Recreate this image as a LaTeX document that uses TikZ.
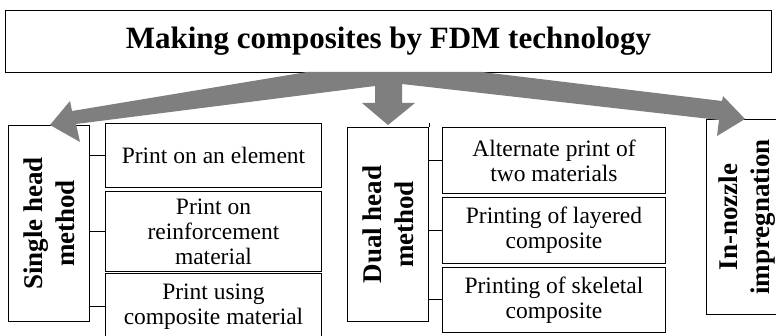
\documentclass[tikz,border=0pt]{standalone}
\usepackage{fontspec}
\setmainfont{Liberation Serif}
\definecolor{arrowgray}{HTML}{7F7F7F}
\begin{document}
\begin{tikzpicture}[x=1pt,y=-1pt,
  box/.style={draw, line width=1pt, inner sep=0pt, anchor=north west},
  sub/.style={box, align=center, font=\fontsize{23.5}{25}\selectfont},
  vbox/.style={box, minimum width=81pt},
  vlabel/.style={rotate=90, align=center, inner sep=0pt, font=\bfseries\fontsize{27}{32}\selectfont},
  tick/.style={line width=1pt}]
\path[use as bounding box, clip] (0,0) rectangle (776,336);

% title
\node[box, minimum width=766pt, minimum height=62pt,
      font=\bfseries\fontsize{31}{34}\selectfont] (title) at (5,10)
      {Making composites by FDM technology};

% single head branch
\node[vbox, minimum height=196pt] (single) at (8,125) {};
\node[vlabel] (singlet) at (single.center) {Single head\\method};
\node[sub, minimum width=216pt, minimum height=64pt] (sa) at (105,123) {Print on an element};
\node[sub, minimum width=216pt, minimum height=80pt] (sb) at (105,191) {Print on\\reinforcement\\material};
\node[sub, minimum width=216pt, minimum height=66pt] (sc) at (105,273) {Print using\\composite material};
\foreach \s in {sa,sb,sc}
  \draw[tick] (single.east |- \s.west) -- (\s.west);

% dual head branch
\node[vbox, minimum height=194pt] (dual) at (347,127) {};
\node[vlabel] (dualt) at (dual.center) {Dual head\\method};
\node[sub, minimum width=223pt, minimum height=66pt] (da) at (442,127) {Alternate print of\\two materials};
\node[sub, minimum width=223pt, minimum height=66pt] (db) at (442,197) {Printing of layered\\composite};
\node[sub, minimum width=223pt, minimum height=65pt] (dc) at (442,267) {Printing of skeletal\\composite};
\draw[tick] (dual.north east) -- ++(0,-4);
\foreach \s in {da,db,dc}
  \draw[tick] (dual.east |- \s.west) -- (\s.west);

% in-nozzle branch
\node[vbox, minimum height=195pt] (nozzle) at (706,119) {};
\node[vlabel] (nozzlet) at (nozzle.center) {In-nozzle\\impregnation};

% branching arrows from the title
\fill[arrowgray] (307,72) -- (482,72) -- (722,101) -- (723,96) -- (745,119)
  -- (717,136) -- (719,120) -- (402,84) -- (402,103) -- (415,103) -- (388,125)
  -- (362,103) -- (375,103) -- (375,86) -- (76,124) -- (80,142) -- (50,125)
  -- (70,101) -- (72,111) -- cycle;
\end{tikzpicture}
\end{document}
